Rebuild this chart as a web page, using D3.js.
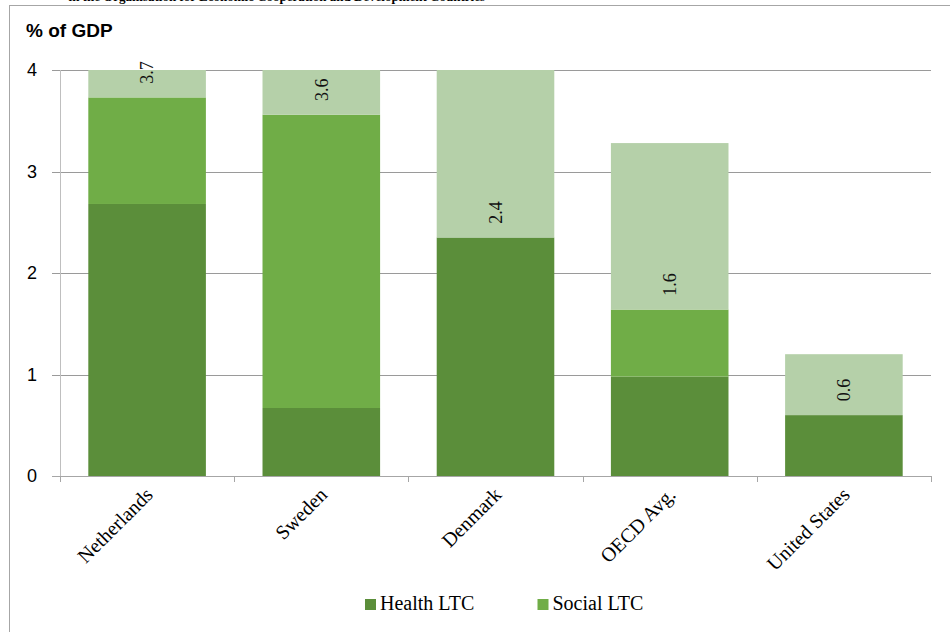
<!DOCTYPE html>
<html>
<head>
<meta charset="utf-8">
<script src="https://cdn.jsdelivr.net/npm/d3@7"></script>
<style>
  body { margin: 0; background: #fff; }
  svg { display: block; }
</style>
</head>
<body>
<div id="chart"></div>
<script>
// chart data
const categories = ['Netherlands', 'Sweden', 'Denmark', 'OECD Avg.', 'United States'];
const healthLTC = [2.68, 0.67, 2.35, 0.98, 0.60];
const socialLTC = [1.05, 2.89, 0, 0.66, 0];
const totalLTC = [3.73, 3.56, 2.35, 1.64, 0.60];
const yTicks = [0, 1, 2, 3, 4];
const legendNames = ['Health LTC', 'Social LTC'];

const colors = { health: '#5b8e3a', social: '#70ad47', total: '#b5d0a9' };

const width = 950, height = 632;
const margin = { left: 60, right: 19, top: 70, bottom: 156 };

const svg = d3.select('#chart').append('svg')
  .attr('width', width)
  .attr('height', height);

// figure title, mostly cut off at the top edge
svg.append('text')
  .attr('x', 485).attr('y', 1)
  .attr('text-anchor', 'end')
  .attr('font-family', 'Liberation Serif, Times New Roman, serif')
  .attr('font-weight', 'bold')
  .attr('font-size', 13)
  .text('in the Organisation for Economic Cooperation and Development Countries');

// chart frame
svg.append('rect')
  .attr('x', 9.5).attr('y', 5.5)
  .attr('width', 960).attr('height', 640)
  .attr('fill', 'none')
  .attr('stroke', '#a6a6a6');

const x = d3.scaleBand()
  .domain(categories)
  .range([margin.left, width - margin.right])
  .paddingInner(0.325)
  .paddingOuter(0.1625);

const y = d3.scaleLinear()
  .domain([0, 4])
  .range([height - margin.bottom, margin.top])
  .clamp(true);

// gridlines
svg.append('g').selectAll('line')
  .data(yTicks.filter(d => d > 0))
  .join('line')
  .attr('x1', 52).attr('x2', width - margin.right)
  .attr('y1', d => Math.round(y(d)) + 0.5).attr('y2', d => Math.round(y(d)) + 0.5)
  .attr('stroke', '#9a9a9a');

// y tick labels
svg.append('g').selectAll('text')
  .data(yTicks)
  .join('text')
  .attr('x', 37)
  .attr('y', d => y(d))
  .attr('dy', '0.36em')
  .attr('text-anchor', 'end')
  .attr('font-family', 'Liberation Sans, Arial, sans-serif')
  .attr('font-size', 18)
  .text(d => d);

svg.append('text')
  .attr('x', 26).attr('y', 37)
  .attr('font-family', 'Liberation Sans, Arial, sans-serif')
  .attr('font-weight', 'bold')
  .attr('font-size', 19)
  .text('% of GDP');

// stacked bars
const rows = categories.map((c, i) => ({
  name: c,
  health: healthLTC[i],
  social: socialLTC[i],
  total: totalLTC[i]
}));
const stack = d3.stack().keys(['health', 'social', 'total'])(rows);

svg.append('g').selectAll('g')
  .data(stack)
  .join('g')
  .attr('fill', s => colors[s.key])
  .selectAll('rect')
  .data(s => s)
  .join('rect')
  .attr('x', d => x(d.data.name))
  .attr('width', x.bandwidth())
  .attr('y', d => y(d[1]))
  .attr('height', d => y(d[0]) - y(d[1]));

// total labels, just above the base of the light segment
const totalLayer = stack[2];
svg.append('g').selectAll('text')
  .data(totalLayer)
  .join('text')
  .attr('transform', d => `translate(${x(d.data.name) + x.bandwidth() / 2},${y(d[0]) - 25}) rotate(-90)`)
  .attr('text-anchor', 'middle')
  .attr('dy', '0.35em')
  .attr('font-family', 'Liberation Serif, Times New Roman, serif')
  .attr('font-size', 18)
  .attr('fill', '#111')
  .text(d => d.data.total.toFixed(1));

// axes lines
svg.append('line')
  .attr('x1', margin.left + 0.5).attr('x2', margin.left + 0.5)
  .attr('y1', margin.top).attr('y2', y(0) + 5)
  .attr('stroke', '#bfbfbf');
svg.append('line')
  .attr('x1', 52).attr('x2', width - margin.right)
  .attr('y1', Math.round(y(0)) + 0.5).attr('y2', Math.round(y(0)) + 0.5)
  .attr('stroke', '#a6a6a6');

// category boundary ticks
const plotW = width - margin.right - margin.left;
svg.append('g').selectAll('line')
  .data(d3.range(categories.length + 1))
  .join('line')
  .attr('x1', i => Math.round(margin.left + i * plotW / categories.length) + 0.5)
  .attr('x2', i => Math.round(margin.left + i * plotW / categories.length) + 0.5)
  .attr('y1', y(0)).attr('y2', y(0) + 6)
  .attr('stroke', '#a6a6a6');

// category labels
svg.append('g').selectAll('text')
  .data(categories)
  .join('text')
  .attr('transform', d => `translate(${x(d) + x.bandwidth() / 2 + 7},${y(0) + 20}) rotate(-45)`)
  .attr('text-anchor', 'end')
  .attr('font-family', 'Liberation Serif, Times New Roman, serif')
  .attr('font-size', 20)
  .text(d => d);

// legend
const legend = svg.append('g').selectAll('g')
  .data(legendNames)
  .join('g')
  .attr('transform', (d, i) => `translate(${365 + i * 172.5},599)`);
legend.append('rect')
  .attr('width', 11).attr('height', 11)
  .attr('fill', (d, i) => i === 0 ? colors.health : colors.social);
legend.append('text')
  .attr('x', 15).attr('y', 11)
  .attr('font-family', 'Liberation Serif, Times New Roman, serif')
  .attr('font-size', 20)
  .text(d => d);
</script>
</body>
</html>
